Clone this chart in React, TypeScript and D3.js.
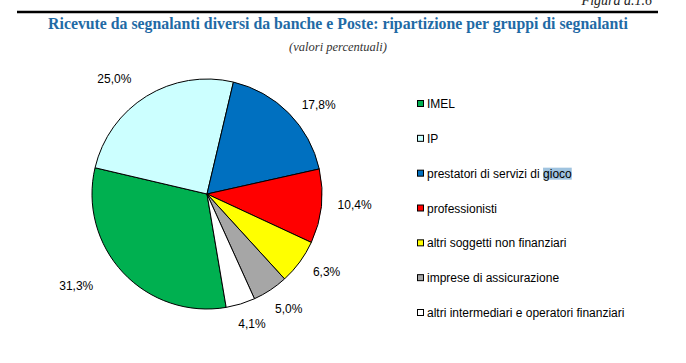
import { useEffect, useRef } from "react"
import * as d3 from "d3"

const categories = [
  "IMEL",
  "IP",
  "prestatori di servizi di gioco",
  "professionisti",
  "altri soggetti non finanziari",
  "imprese di assicurazione",
  "altri intermediari e operatori finanziari",
]
const values = [31.3, 25.0, 17.8, 10.4, 6.3, 5.0, 4.1]
const colors = ["#00b050", "#ccffff", "#0070c0", "#ff0000", "#ffff00", "#a6a6a6", "#ffffff"]

const title = "Ricevute da segnalanti diversi da banche e Poste: ripartizione per gruppi di segnalanti"
const subtitle = "(valori percentuali)"
const figLabel = "Figura a.1.6"

export default function App() {
  const svgRef = useRef<SVGSVGElement>(null)

  useEffect(() => {
    if (!svgRef.current) return
    const svg = d3.select(svgRef.current)
    svg.selectAll("*").remove()

    const W = 686
    const sans = "'Liberation Sans', Arial, sans-serif"
    const serif = "'Liberation Serif', 'Times New Roman', serif"

    // header
    svg.append("text")
      .attr("x", 652).attr("y", 5)
      .attr("text-anchor", "end")
      .attr("font-family", serif).attr("font-style", "italic")
      .attr("font-size", 14).attr("fill", "#222")
      .text(figLabel)

    svg.append("line")
      .attr("x1", 17).attr("x2", 658)
      .attr("y1", 12).attr("y2", 12)
      .attr("stroke", "#000").attr("stroke-width", 2.5)

    svg.append("text")
      .attr("x", W / 2 - 5).attr("y", 29)
      .attr("text-anchor", "middle")
      .attr("font-family", serif).attr("font-weight", "bold")
      .attr("font-size", 15.8).attr("fill", "#1f6aa5")
      .text(title)

    svg.append("text")
      .attr("x", W / 2 - 5).attr("y", 51)
      .attr("text-anchor", "middle")
      .attr("font-family", serif).attr("font-style", "italic")
      .attr("font-size", 12.5).attr("fill", "#333")
      .text(subtitle)

    // pie
    const cx = 207, cy = 194, r = 115
    const start = (170.4 * Math.PI) / 180
    const pie = d3.pie<number>().sort(null).value((d) => d)
      .startAngle(start).endAngle(start + 2 * Math.PI)
    const arcs = pie(values)
    const arc = d3.arc<d3.PieArcDatum<number>>().innerRadius(0).outerRadius(r)

    const g = svg.append("g").attr("transform", `translate(${cx},${cy})`)
    g.selectAll("path.slice")
      .data(arcs)
      .enter()
      .append("path")
      .attr("class", "slice")
      .attr("d", arc)
      .attr("fill", (_, i) => colors[i])
      .attr("stroke", "#000")
      .attr("stroke-width", 1)

    // excel-style "best fit" label placement: small nudges in angle (deg) and radius
    const nudgeDeg = [8, -7, 6, -2, -3, -2, -2]
    const labelR = [160, 148, 143, 148, 143, 141, 138]
    const fmt = (v: number) => v.toFixed(1).replace(".", ",") + "%"
    g.selectAll("text.lbl")
      .data(arcs)
      .enter()
      .append("text")
      .attr("class", "lbl")
      .attr("transform", (d, i) => {
        const a = (d.startAngle + d.endAngle) / 2 + (nudgeDeg[i] * Math.PI) / 180
        const x = Math.sin(a) * labelR[i]
        const y = -Math.cos(a) * labelR[i]
        return `translate(${x},${y})`
      })
      .attr("text-anchor", "middle")
      .attr("dominant-baseline", "central")
      .attr("font-family", sans).attr("font-size", 12).attr("fill", "#000")
      .text((d) => fmt(d.data))

    // legend
    const ly = d3.scalePoint<string>().domain(categories).range([104, 313])
    const lg = svg.append("g")
    categories.forEach((c, i) => {
      const y = ly(c) || 0
      lg.append("rect")
        .attr("x", 417.5).attr("y", y - 3.5)
        .attr("width", 6).attr("height", 6)
        .attr("fill", colors[i]).attr("stroke", "#000").attr("stroke-width", 1)
      const t = lg.append("text")
        .attr("x", 427).attr("y", y)
        .attr("dominant-baseline", "central")
        .attr("font-family", sans).attr("font-size", 12).attr("fill", "#000")
      if (c.endsWith("gioco")) {
        // selection highlight behind the last word, as in the source
        t.text("gioco")
        const wg = (t.node() as SVGTextElement).getComputedTextLength()
        t.text(c)
        const w1 = (t.node() as SVGTextElement).getComputedTextLength()
        lg.insert("rect", "text")
          .attr("x", 427 + w1 - wg).attr("y", y - 6)
          .attr("width", wg).attr("height", 12)
          .attr("fill", "#9fc3df")
      } else {
        t.text(c)
      }
    })
  }, [])

  return (
    <svg
      ref={svgRef}
      width={686}
      height={363}
      style={{ display: "block", position: "absolute", left: 0, top: 0, background: "#fff" }}
    />
  )
}
